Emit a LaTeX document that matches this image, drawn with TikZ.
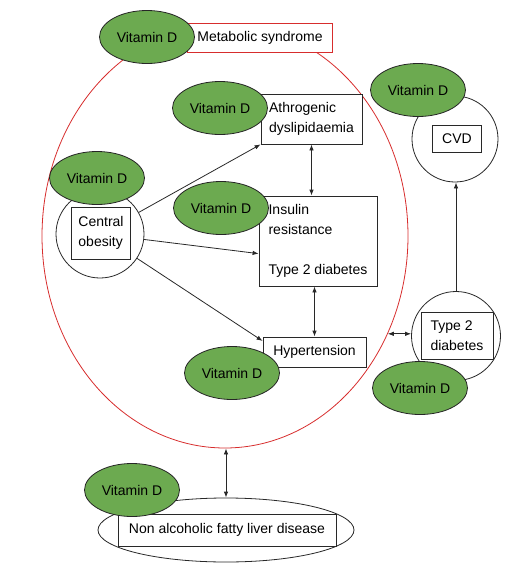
\documentclass[tikz,border=0pt]{standalone}
\usepackage{fontspec}
\setmainfont{Liberation Sans}
\usetikzlibrary{arrows.meta,shapes.geometric}
\definecolor{vitgreen}{RGB}{108,170,80}
\definecolor{msred}{RGB}{215,45,45}
\definecolor{linegray}{RGB}{40,40,40}
\tikzstyle{vitamin}=[ellipse,fill=vitgreen,draw=black!85,minimum width=95pt,minimum height=53pt,inner sep=0pt]
\tikzstyle{disease}=[rectangle,fill=white,draw=linegray,align=left,inner sep=0pt]
\tikzstyle{ring}=[circle,fill=white,draw=linegray,inner sep=0pt]
\tikzstyle{edge} = [draw,linegray,-{Latex[length=6pt,width=4.5pt]}]
\tikzstyle{twowayedge} = [draw,linegray,{Latex[length=6pt,width=4.5pt]}-{Latex[length=6pt,width=4.5pt]}]
\begin{document}
\begin{tikzpicture}[x=1pt, y=-1pt, line width=0.8pt, font=\fontsize{14}{20}\selectfont]

    \useasboundingbox (0,0) rectangle (518,574);

    % metabolic syndrome outline
    \node[ellipse,draw=msred,minimum width=366pt,minimum height=424pt,inner sep=0pt] (ms_ring) at (225,236) {};

    \foreach \pos/ \name/ \size in {{(100,234)/co_ring/88}, {(455,139)/cvd_ring/86}, {(456,336)/t2_ring/89}}
        \node[ring,minimum size=\size pt] (\name) at \pos {};
    \node[ellipse,fill=white,draw=linegray,minimum width=256pt,minimum height=64pt] (nf_ring) at (226,530) {};

    \node[disease,draw=msred,minimum width=145pt,minimum height=29pt] (ms_box) at (260,38) {Metabolic syndrome};
    \foreach \pos/ \name/ \w/ \h/ \text in {{(311.5,119)/ad_box/101/50/{Athrogenic\\dyslipidaemia}},
        {(318,241)/ir_box/118/90/{Insulin\\resistance\\~\\Type 2 diabetes}},
        {(101,233)/co_box/59/52/{Central\\obesity}}, {(314.5,352)/ht_box/103/30/{Hypertension}},
        {(457,139)/cvd_box/49/27/{CVD}}, {(457,336)/t2_box/72/47/{Type 2\\diabetes}},
        {(227,530)/nf_box/218/32/{Non alcoholic fatty liver disease}}}
        \node[disease,minimum width=\w pt,minimum height=\h pt] (\name) at \pos {\text};

    % links
    \path[edge] (co_ring) -- (ad_box.south west);
    \path[edge] (co_ring) -- (ir_box.-168);
    \path[edge] (co_ring) -- (ht_box.168);
    \path[edge] (t2_ring) -- (t2_ring.north |- cvd_ring.south);
    \path[twowayedge] (ad_box.south) -- (ad_box.south |- ir_box.north);
    \path[twowayedge] (ht_box.north) -- (ht_box.north |- ir_box.south);
    \path[twowayedge] (ms_ring.-31) -- (ms_ring.-31 -| t2_ring.west);
    \path[twowayedge] (nf_ring.north |- ms_ring.south) -- (nf_ring.north);

    \foreach \pos/ \name in {{(147,37)/vd_ms}, {(220,108)/vd_ad}, {(221,208)/vd_ir}, {(97,178)/vd_co},
        {(232,373)/vd_ht}, {(418,90)/vd_cvd}, {(420,388)/vd_t2}, {(132,490)/vd_nf}}
        \node[vitamin] (\name) at \pos {Vitamin D};

\end{tikzpicture}
\end{document}
